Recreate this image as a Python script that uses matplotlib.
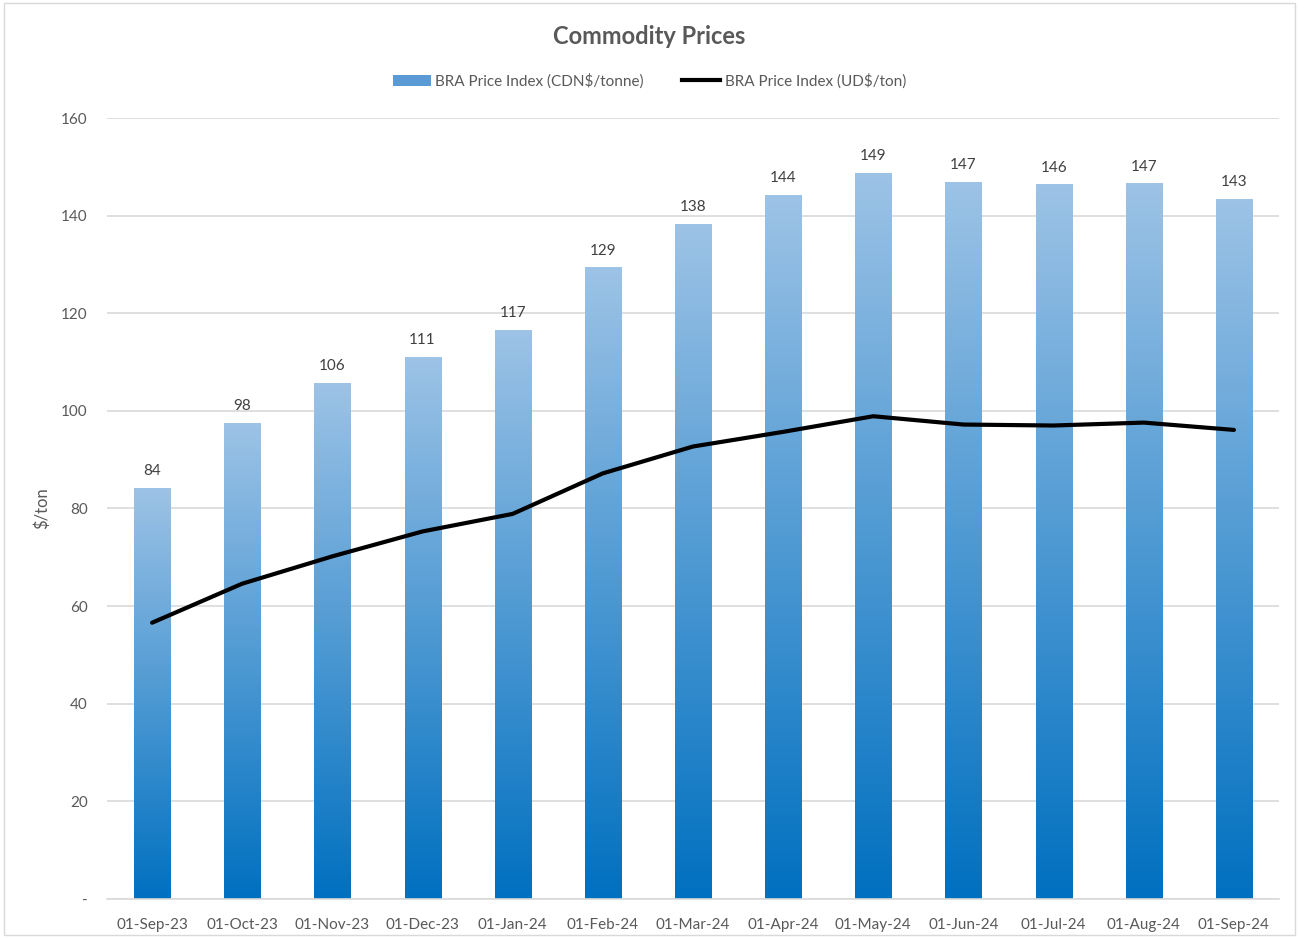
import matplotlib.pyplot as plt
import numpy as np
from matplotlib.colors import LinearSegmentedColormap
from matplotlib.patches import Rectangle
from matplotlib.lines import Line2D

plt.rcParams['font.family'] = ['Lato', 'DejaVu Sans']

dates = ['01-Sep-23', '01-Oct-23', '01-Nov-23', '01-Dec-23', '01-Jan-24', '01-Feb-24',
         '01-Mar-24', '01-Apr-24', '01-May-24', '01-Jun-24', '01-Jul-24', '01-Aug-24', '01-Sep-24']
cdn_price = [84.3, 97.6, 105.8, 111.0, 116.6, 129.4, 138.3, 144.2, 148.8, 146.9, 146.4, 146.6, 143.4]
usd_price = [56.6, 64.6, 70.2, 75.3, 78.9, 87.2, 92.7, 95.7, 98.9, 97.2, 97.0, 97.6, 96.1]
yticks = [0, 20, 40, 60, 80, 100, 120, 140, 160]

fig = plt.figure(figsize=(12.99, 9.38), dpi=100)
ax = fig.add_axes([107/1299, 39/938, 1172/1299, 781/938])

cmap = LinearSegmentedColormap.from_list('blu', ['#0070C0', '#9DC3E6'])
grad = np.linspace(0, 1, 256).reshape(-1, 1)
x = np.arange(len(dates))
w = 0.4
for xi, v in zip(x, cdn_price):
    im = ax.imshow(grad, cmap=cmap, origin='lower', aspect='auto',
                   extent=[xi - w/2, xi + w/2, 0, v], zorder=2)
    clip = Rectangle((xi - w/2, 0), w, v, transform=ax.transData)
    im.set_clip_path(clip)
    ax.text(xi, v + 2, f'{v:.0f}', ha='center', va='bottom', fontsize=11, color='#404040')

ax.plot(x, usd_price, color='black', lw=3, zorder=3, solid_capstyle='round')

ax.set_xlim(-0.5, len(dates) - 0.5)
ax.set_ylim(0, 160)
ax.set_yticks(yticks)
ax.set_yticklabels(['-' if t == 0 else str(t) for t in yticks])
ax.set_xticks(x)
ax.set_xticklabels(dates)
ax.tick_params(axis='both', length=0, labelsize=11, colors='#595959')
ax.tick_params(axis='y', pad=14)
ax.tick_params(axis='x', pad=14)
ax.grid(axis='y', color='#D9D9D9', lw=1.2, zorder=0)
for s in ['top', 'right', 'left']:
    ax.spines[s].set_visible(False)
ax.spines['bottom'].set_color('#D9D9D9')
ax.spines['bottom'].set_linewidth(1.2)
ax.set_ylabel('$/ton', fontsize=12, color='#595959')
ax.yaxis.set_label_coords(-57/1172, 0.5)

fig.text(0.5, 1 - 36/938, 'Commodity Prices', ha='center', va='center',
         fontsize=17, fontweight='bold', color='#595959')

handles = [Rectangle((0, 0), 1, 1, facecolor='#5B9BD5'),
           Line2D([0], [0], color='black', lw=3)]
fig.legend(handles, ['BRA Price Index (CDN$/tonne)', 'BRA Price Index (UD$/ton)'],
           loc='center', bbox_to_anchor=(0.5, 1 - 81/938), ncol=2, frameon=False,
           fontsize=11, labelcolor='#595959', handlelength=2.5, handletextpad=0.3,
           columnspacing=2.5)

border = Rectangle((0.003, 0.003), 0.994, 0.994, transform=fig.transFigure,
                   fill=False, edgecolor='#D9D9D9', lw=1)
fig.patches.append(border)

fig.savefig('out.png', dpi=100)
